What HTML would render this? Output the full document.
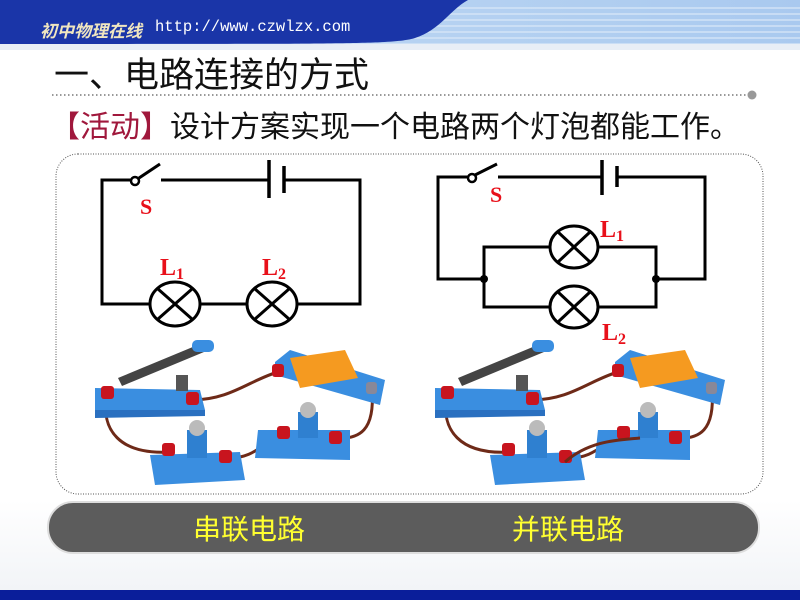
<!DOCTYPE html>
<html><head><meta charset="utf-8"><style>
body{margin:0;width:800px;height:600px;overflow:hidden;background:#fff;font-family:"Liberation Sans","Noto Sans CJK SC",sans-serif;position:relative}
.t{position:absolute;white-space:nowrap}
</style></head><body>
<svg width="800" height="600" style="position:absolute;left:0;top:0">
<defs>
<linearGradient id="hd" x1="0" y1="0" x2="1" y2="0"><stop offset="0" stop-color="#c5dcf4"/><stop offset="1" stop-color="#a9c9ef"/></linearGradient>
<linearGradient id="bg" x1="0" y1="0" x2="0" y2="1"><stop offset="0" stop-color="#fff"/><stop offset="1" stop-color="#f2f4f7"/></linearGradient>
</defs>
<rect x="0" y="500" width="800" height="90" fill="url(#bg)"/>
<rect x="0" y="0" width="800" height="50" fill="url(#hd)"/>
<g stroke="#d9e8f8" stroke-width="1.2">
<line x1="300" y1="8" x2="800" y2="8"/><line x1="300" y1="14" x2="800" y2="14"/><line x1="300" y1="20" x2="800" y2="20"/><line x1="300" y1="26" x2="800" y2="26"/><line x1="300" y1="32" x2="800" y2="32"/><line x1="300" y1="38" x2="800" y2="38"/><line x1="300" y1="44" x2="800" y2="44"/>
</g>
<path d="M0 0 H468 C450 10 440 30 415 38 C395 44 360 44 0 44 Z" fill="#1a35a8"/>
<rect x="0" y="44" width="800" height="6" fill="#e8eef6"/>
<rect x="0" y="590" width="800" height="10" fill="#0a1e9a"/>
<line x1="52" y1="95" x2="748" y2="95" stroke="#999" stroke-width="2" stroke-dasharray="1.5 2.5"/>
<circle cx="752" cy="95" r="4.5" fill="#999"/>
<rect x="56" y="154" width="707" height="340" rx="22" fill="none" stroke="#555" stroke-width="1" stroke-dasharray="1 1.5"/>
<g stroke="#000" stroke-width="3" fill="none">
<polyline points="136,180 102,180 102,304 150,304"/>
<line x1="200" y1="304" x2="247" y2="304"/>
<polyline points="297,304 360,304 360,180 284,180"/>
<line x1="161" y1="180" x2="269" y2="180"/>
<line x1="139" y1="178" x2="160" y2="164"/>
<ellipse cx="175" cy="304" rx="25" ry="22"/><ellipse cx="272" cy="304" rx="25" ry="22"/>
<line x1="158" y1="289" x2="192" y2="319"/><line x1="192" y1="289" x2="158" y2="319"/>
<line x1="255" y1="289" x2="289" y2="319"/><line x1="289" y1="289" x2="255" y2="319"/>
</g>
<circle cx="135" cy="181" r="4" fill="#fff" stroke="#000" stroke-width="2.5"/>
<line x1="269" y1="160" x2="269" y2="198" stroke="#000" stroke-width="3.5"/>
<line x1="284" y1="166" x2="284" y2="193" stroke="#000" stroke-width="3.5"/>
<g stroke="#000" stroke-width="3" fill="none">
<polyline points="470,177 438,177 438,279 484,279"/>
<line x1="498" y1="177" x2="602" y2="177"/>
<polyline points="617,177 705,177 705,279 656,279"/>
<polyline points="550,247 484,247 484,307 550,307"/>
<polyline points="598,247 656,247 656,307 598,307"/>
<line x1="475" y1="175" x2="497" y2="164"/>
<ellipse cx="574" cy="247" rx="24" ry="21"/><ellipse cx="574" cy="307" rx="24" ry="21"/>
<line x1="558" y1="232" x2="590" y2="262"/><line x1="590" y1="232" x2="558" y2="262"/>
<line x1="558" y1="292" x2="590" y2="322"/><line x1="590" y1="292" x2="558" y2="322"/>
</g>
<circle cx="472" cy="178" r="4" fill="#fff" stroke="#000" stroke-width="2.5"/>
<circle cx="484" cy="279" r="4" fill="#000"/><circle cx="656" cy="279" r="4" fill="#000"/>
<line x1="602" y1="160" x2="602" y2="195" stroke="#000" stroke-width="3.5"/>
<line x1="617" y1="166" x2="617" y2="187" stroke="#000" stroke-width="3.5"/>
<g font-family="Liberation Serif,serif" font-weight="bold" fill="#e8101a">
<text x="140" y="214" font-size="22">S</text>
<text x="160" y="275" font-size="24">L<tspan font-size="16" dy="4">1</tspan></text>
<text x="262" y="275" font-size="24">L<tspan font-size="16" dy="4">2</tspan></text>
<text x="490" y="202" font-size="22">S</text>
<text x="600" y="237" font-size="24">L<tspan font-size="16" dy="4">1</tspan></text>
<text x="602" y="340" font-size="24">L<tspan font-size="16" dy="4">2</tspan></text>
</g>
<g id="ph">
<path d="M107 395 C100 430 120 455 170 452" stroke="#6e2a18" stroke-width="3" fill="none"/>
<path d="M192 400 C230 400 250 380 278 372" stroke="#6e2a18" stroke-width="3" fill="none"/>
<path d="M372 390 C375 430 360 440 335 438" stroke="#6e2a18" stroke-width="3" fill="none"/>
<path d="M225 458 C255 460 265 440 283 434" stroke="#6e2a18" stroke-width="3" fill="none"/>
<polygon points="95,388 200,390 205,410 95,415" fill="#3a8ee0"/>
<polygon points="95,410 205,410 205,416 95,418" fill="#2a70c0"/>
<polygon points="118,378 200,344 204,352 122,386" fill="#444"/>
<rect x="192" y="340" width="22" height="12" rx="5" fill="#3a8ee0"/>
<rect x="176" y="375" width="12" height="16" fill="#555"/>
<polygon points="275,362 290,350 385,380 380,405 275,375" fill="#3a8ee0"/>
<polygon points="290,358 345,350 358,378 300,388" fill="#f59a20"/>
<polygon points="150,455 240,452 245,480 155,485" fill="#3a8ee0"/>
<rect x="187" y="430" width="20" height="28" fill="#2f80d0"/>
<circle cx="197" cy="428" r="8" fill="#bbb"/>
<polygon points="258,430 350,430 350,460 255,458" fill="#3a8ee0"/>
<rect x="298" y="412" width="20" height="26" fill="#2f80d0"/>
<circle cx="308" cy="410" r="8" fill="#bbb"/>
<g fill="#c8141e">
<rect x="101" y="386" width="13" height="13" rx="3"/><rect x="186" y="392" width="13" height="13" rx="3"/>
<rect x="272" y="364" width="12" height="13" rx="3"/><rect x="162" y="443" width="13" height="13" rx="3"/>
<rect x="219" y="450" width="13" height="13" rx="3"/><rect x="277" y="426" width="13" height="13" rx="3"/>
<rect x="329" y="431" width="13" height="13" rx="3"/>
</g>
<rect x="366" y="382" width="11" height="12" rx="3" fill="#889"/>
</g>
<use href="#ph" transform="translate(340,0)"/>
<path d="M565 462 C590 440 620 440 640 438" stroke="#6e2a18" stroke-width="3" fill="none"/>
<rect x="48" y="502" width="711" height="51" rx="25" fill="#5c5c5c" stroke="#ddd" stroke-width="2"/>
</svg>
<div class="t" style="left:40px;top:17px;color:#f0e6c0;font-size:17px;font-weight:bold;font-style:italic">初中物理在线</div>
<div class="t" style="left:155px;top:18px;color:#fff;font-size:15.5px;font-family:'Liberation Mono',monospace">http://www.czwlzx.com</div>
<div class="t" style="left:54px;top:47px;font-size:35px;color:#111">一、电路连接的方式</div>
<div class="t" style="left:50px;top:102px;font-size:30px;color:#111"><span style="color:#a0183c">【活动】</span>设计方案实现一个电路两个灯泡都能工作。</div>
<div class="t" style="left:193px;top:508px;font-size:28px;color:#ffff30">串联电路</div>
<div class="t" style="left:512px;top:508px;font-size:28px;color:#ffff30">并联电路</div>
</body></html>
